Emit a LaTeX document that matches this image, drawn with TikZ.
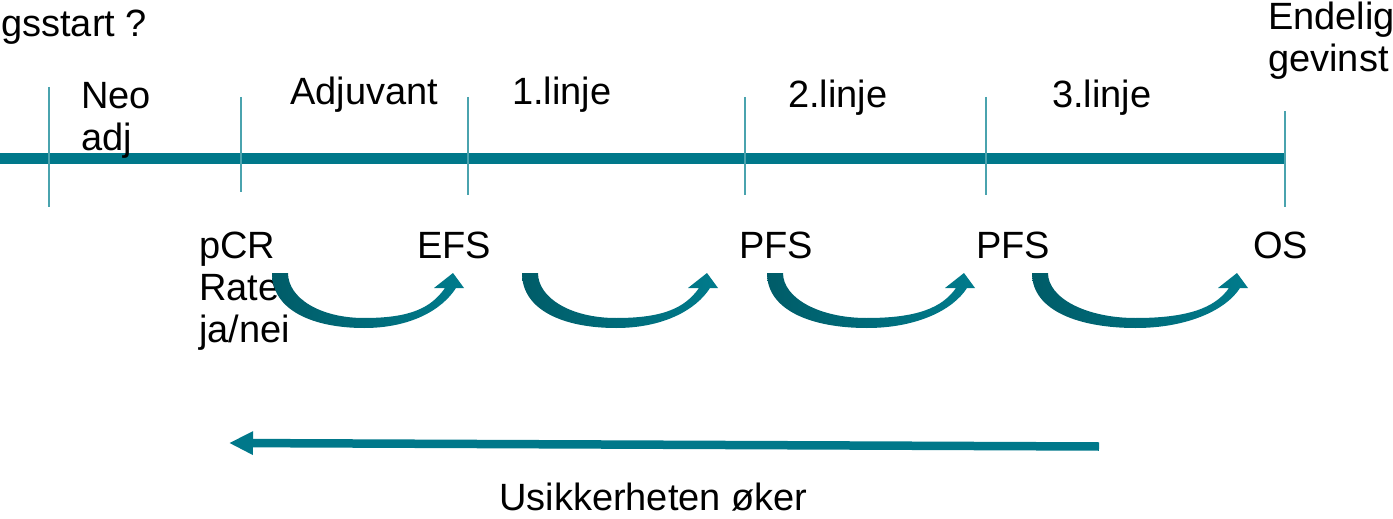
\documentclass[tikz,border=0pt]{standalone}
\usepackage{fontspec}
\setmainfont{Liberation Sans}
\usetikzlibrary{arrows.meta}
\definecolor{teal}{HTML}{00788A}
\definecolor{tickteal}{HTML}{4AA3AE}
\definecolor{darkteal}{HTML}{005C68}
\definecolor{lightteal}{HTML}{007B8C}

% curved "step" arrow: #1 = left x of the tail, #2 = width up to the head's right corner
% the band is widest at the tail and narrows towards the head
\newcommand\stepcurve[2]{%
  \pgfmathsetmacro\arx{#1}\pgfmathsetmacro\arw{#2}%
  \shade[left color=darkteal, right color=lightteal]
    (\arx,273)
    .. controls (\arx,311) and ({\arx+0.22*\arw},328) .. ({\arx+0.48*\arw},328)
    .. controls ({\arx+0.72*\arw},328) and ({\arx+\arw-22},310) .. ({\arx+\arw-8},288)
    -- ({\arx+\arw},288) -- ({\arx+\arw-11},273) -- ({\arx+\arw-30},288) -- ({\arx+\arw-19},288)
    .. controls ({\arx+\arw-33},308) and ({\arx+0.72*\arw},318) .. ({\arx+0.48*\arw},318)
    .. controls ({\arx+0.25*\arw},318) and ({\arx+16},298) .. ({\arx+16},273)
    -- cycle;}

\begin{document}
\begin{tikzpicture}[x=1pt,y=-1pt,
  lbl/.style={anchor=base west,inner sep=0pt,font=\fontsize{38}{42}\selectfont},
  tick/.style={draw=tickteal,line width=2pt},
  axis/.style={draw=teal,line width=11pt},
  trend/.style={draw=teal,line width=8.5pt,-{Triangle[length=24pt,width=22pt]}}]
\useasboundingbox (0,0) rectangle (1393,519);

% time axis
\coordinate (axL) at (0,158.5);
\coordinate (axR) at (1285,158.5);
\draw[axis] (axL) -- (axR);

% phase boundaries
\draw[tick] (49,87) -- (49,207);
\draw[tick] (241,97) -- (241,192);
\draw[tick] (468,97) -- (468,195);
\draw[tick] (745,97) -- (745,195);
\draw[tick] (986,97) -- (986,195);
\draw[tick] (1285,111) -- (1285,207);

% headings above the axis
\node[lbl] (start) at (1,37) {gsstart ?};
\node[lbl] (neo) at (81,108) {Neo};
\node[lbl] (adj) at (81,150) {adj};
\node[lbl] (adjuv) at (290,104) {Adjuvant};
\node[lbl] (l1) at (512,104) {1.linje};
\node[lbl] (l2) at (788,107) {2.linje};
\node[lbl] (l3) at (1052,107) {3.linje};
\node[lbl] (end1) at (1268,30) {Endelig};
\node[lbl] (end2) at (1268,72) {gevinst};

% endpoints below the axis
\node[lbl] (pcr) at (199,258) {pCR};
\node[lbl] (rate) at (199,300) {Rate};
\node[lbl] (janei) at (199,342) {ja/nei};
\node[lbl] (efs) at (417,258) {EFS};
\node[lbl] (pfs1) at (739,258) {PFS};
\node[lbl] (pfs2) at (976,258) {PFS};
\node[lbl] (os) at (1253,258) {OS};

% arrows between endpoints
\stepcurve{272}{192}
\stepcurve{522}{196}
\stepcurve{767}{208}
\stepcurve{1032}{216}

% uncertainty trend
\coordinate (trR) at (1099,446.5);
\coordinate (trL) at (229,443);
\draw[trend] (trR) -- (trL);
\node[lbl] (unc) at (499,510) {Usikkerheten øker};
\end{tikzpicture}
\end{document}
